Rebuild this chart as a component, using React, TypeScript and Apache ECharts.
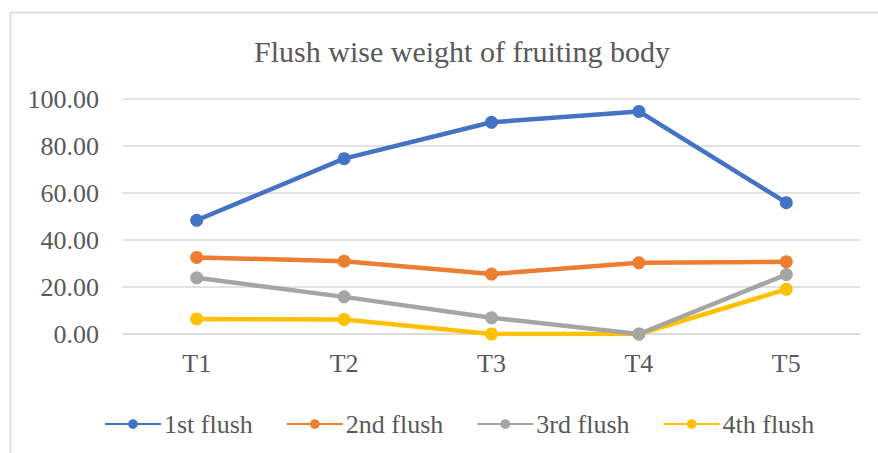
import React, { useEffect, useRef } from "react";
import * as echarts from "echarts";

const categories = ["T1", "T2", "T3", "T4", "T5"];
const firstFlush = [48.4, 74.6, 90.1, 94.7, 55.9];
const secondFlush = [32.6, 31.0, 25.5, 30.3, 30.7];
const thirdFlush = [23.9, 15.8, 6.9, 0, 25.3];
const fourthFlush = [6.4, 6.2, 0, 0, 19.0];
const seriesNames = ["1st flush", "2nd flush", "3rd flush", "4th flush"];
const seriesColors = ["#4472C4", "#ED7D31", "#A5A5A5", "#FFC000"];

const FONT = '"Liberation Serif", "Times New Roman", serif';

export default function App() {
  const ref = useRef<HTMLDivElement>(null);
  useEffect(() => {
    document.body.style.margin = "0";
    const chart = echarts.init(ref.current!, null, { renderer: "svg" });
    const data = [firstFlush, secondFlush, thirdFlush, fourthFlush];
    chart.setOption({
      animation: false,
      backgroundColor: "#ffffff",
      title: {
        text: "Flush wise weight of fruiting body",
        left: 457,
        top: 31,
        textAlign: "center",
        textStyle: { fontFamily: FONT, fontSize: 30, fontWeight: "normal", color: "#595959" },
      },
      graphic: [
        {
          type: "rect",
          shape: { x: 10.5, y: 12.5, width: 1000, height: 1000 },
          style: { fill: "none", stroke: "#D9D9D9", lineWidth: 1.5 },
          silent: true,
        },
      ],
      legend: {
        left: 99,
        top: 406,
        itemWidth: 56,
        itemHeight: 12,
        itemGap: 33,
        textStyle: { fontFamily: FONT, fontSize: 26, color: "#595959", padding: [0, 0, 0, -2] },
        data: seriesNames,
      },
      grid: { left: 123, right: 18, top: 99, bottom: 119 },
      xAxis: {
        type: "category",
        data: categories,
        boundaryGap: true,
        axisLine: { show: true, lineStyle: { color: "#D9D9D9", width: 1.5 } },
        axisTick: { show: false },
        axisLabel: { fontFamily: FONT, fontSize: 26, color: "#595959", margin: 16 },
      },
      yAxis: {
        type: "value",
        min: 0,
        max: 100,
        interval: 20,
        axisLine: { show: false },
        axisTick: { show: false },
        splitLine: { lineStyle: { color: "#D9D9D9", width: 1.5 } },
        axisLabel: {
          fontFamily: FONT,
          fontSize: 26,
          color: "#595959",
          margin: 24,
          formatter: (v: number) => v.toFixed(2),
        },
      },
      series: data.map((d, i) => ({
        name: seriesNames[i],
        type: "line",
        data: d,
        symbol: "circle",
        symbolSize: 13,
        color: seriesColors[i],
        lineStyle: { width: 4.5, color: seriesColors[i] },
        itemStyle: { color: seriesColors[i] },
        z: 10 - i,
      })),
    });
    return () => chart.dispose();
  }, []);
  return <div ref={ref} style={{ width: 878, height: 453 }} />;
}
